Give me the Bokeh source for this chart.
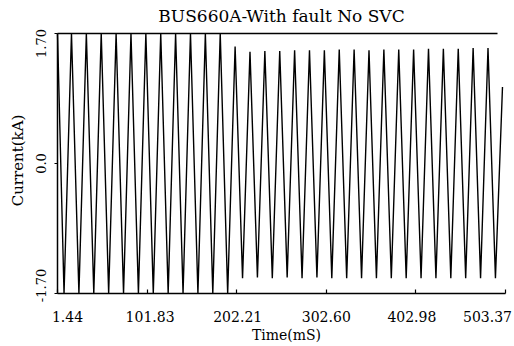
import math
from bokeh.plotting import figure
from bokeh.models import Range1d, FixedTicker, Label, LinearAxis
from bokeh.embed import file_html
from bokeh.resources import INLINE

# ---- data ----
title_text = "BUS660A-With fault No SVC"
x_label = "Time(mS)"
y_label = "Current(kA)"

x_ticks = [1.44, 101.83, 202.21, 302.60, 402.98, 503.37]
x_tick_labels = ["1.44", "101.83", "202.21", "302.60", "402.98", "503.37"]
y_ticks = [-1.70, 0.0, 1.70]
y_tick_labels = ["-1.70", "0.0", "1.70"]

# successive peaks / troughs of the current waveform (ms, kA)
times = [1.44, 8.76, 17.10, 25.43, 33.76, 42.10, 50.43, 58.76, 67.10, 75.43,
         83.76, 92.10, 100.43, 108.76, 117.10, 125.43, 133.76, 142.10, 150.43, 158.76,
         167.10, 175.43, 183.76, 192.10, 200.43, 208.76, 217.10, 225.43, 233.76, 242.10,
         250.43, 258.76, 267.10, 275.43, 283.76, 292.10, 300.43, 308.76, 317.10, 325.43,
         333.76, 342.10, 350.43, 358.76, 367.10, 375.43, 383.76, 392.10, 400.43, 408.76,
         417.10, 425.43, 433.76, 442.10, 450.43, 458.76, 467.10, 475.43, 483.76, 492.10,
         500.00]
current = [1.70, -1.70, 1.70, -1.70, 1.70, -1.70, 1.70, -1.70, 1.70, -1.70,
           1.70, -1.70, 1.70, -1.70, 1.70, -1.70, 1.70, -1.70, 1.70, -1.70,
           1.70, -1.70, 1.70, -1.70, 1.53, -1.50, 1.46, -1.49, 1.47, -1.50,
           1.47, -1.49, 1.48, -1.50, 1.48, -1.49, 1.48, -1.50, 1.49, -1.50,
           1.49, -1.50, 1.48, -1.50, 1.49, -1.50, 1.49, -1.50, 1.49, -1.50,
           1.50, -1.50, 1.50, -1.50, 1.50, -1.50, 1.51, -1.50, 1.51, -1.50,
           1.00]

# ---- layout / style ----
FONT = "DejaVu Serif"
W, H = 512, 344
L, R, T, B = 57, 505, 33, 293          # pixel box of the plotting area
TOP_LINE_END = 497                     # pixel where the top border stops
x_label_offsets = [10, 3, 1, 0, -4, -18]
y_label_offsets = [8, 0, -10]

sx = (R - L) / (x_ticks[-1] - x_ticks[0])
sy = (B - T) / (y_ticks[-1] - y_ticks[0])
x_start = x_ticks[0] - L / sx
x_end = x_ticks[0] + (W - L) / sx
y_end = y_ticks[-1] + T / sy
y_start = y_ticks[0] - (H - B) / sy

p = figure(width=W, height=H, output_backend="svg", toolbar_location=None,
           x_range=Range1d(x_start, x_end), y_range=Range1d(y_start, y_end),
           min_border=0)
p.background_fill_color = "white"
p.border_fill_color = "white"
p.outline_line_color = None
p.xgrid.visible = False
p.ygrid.visible = False

p.line(times, current, line_color="black", line_width=1.4)


def style_axis(ax):
    ax.axis_line_color = "black"
    ax.axis_line_width = 1.5
    ax.major_tick_line_color = "black"
    ax.major_tick_line_width = 1.2
    ax.minor_tick_line_color = None
    ax.major_label_text_font_size = "1px"
    ax.major_label_text_color = None


xa = p.xaxis[0]
style_axis(xa)
xa.fixed_location = y_ticks[0]
xa.bounds = (x_ticks[0], x_ticks[-1])
xa.ticker = FixedTicker(ticks=x_ticks)
xa.major_label_overrides = {v: "" for v in x_ticks}
xa.major_tick_in = 4
xa.major_tick_out = 0

ya = p.yaxis[0]
style_axis(ya)
ya.fixed_location = x_ticks[0]
ya.bounds = (y_ticks[0], y_ticks[-1])
ya.ticker = FixedTicker(ticks=y_ticks)
ya.major_label_overrides = {v: "" for v in y_ticks}
ya.major_tick_in = 0
ya.major_tick_out = 3

top = LinearAxis(fixed_location=y_ticks[-1],
                 bounds=(x_ticks[0], x_ticks[0] + (TOP_LINE_END - L) / sx),
                 ticker=FixedTicker(ticks=[]))
style_axis(top)
p.add_layout(top, "above")

for v, t, o in zip(x_ticks, x_tick_labels, x_label_offsets):
    p.add_layout(Label(x=v, y=y_ticks[0], text=t, x_offset=o, y_offset=-23,
                       text_align="center", text_baseline="middle",
                       text_font=FONT, text_font_size="14px", text_color="black"))
for v, t, o in zip(y_ticks, y_tick_labels, y_label_offsets):
    p.add_layout(Label(x=x_ticks[0], y=v, text=t, x_offset=-17, y_offset=o, angle=math.pi / 2,
                       text_align="center", text_baseline="middle",
                       text_font=FONT, text_font_size="13px", text_color="black"))

xmid = (x_ticks[0] + x_ticks[-1]) / 2
p.add_layout(Label(x=xmid, y=y_ticks[0], text=x_label, x_offset=5, y_offset=-41,
                   text_align="center", text_baseline="middle",
                   text_font=FONT, text_font_size="14px", text_color="black"))
p.add_layout(Label(x=x_ticks[0], y=0.0, text=y_label, x_offset=-40, y_offset=3, angle=math.pi / 2,
                   text_align="center", text_baseline="middle",
                   text_font=FONT, text_font_size="15px", text_color="black"))
p.add_layout(Label(x=xmid, y=y_ticks[-1], text=title_text, x_offset=0, y_offset=18,
                   text_align="center", text_baseline="middle",
                   text_font=FONT, text_font_size="17px", text_color="black"))

open("out.html", "w").write(file_html(p, INLINE))
